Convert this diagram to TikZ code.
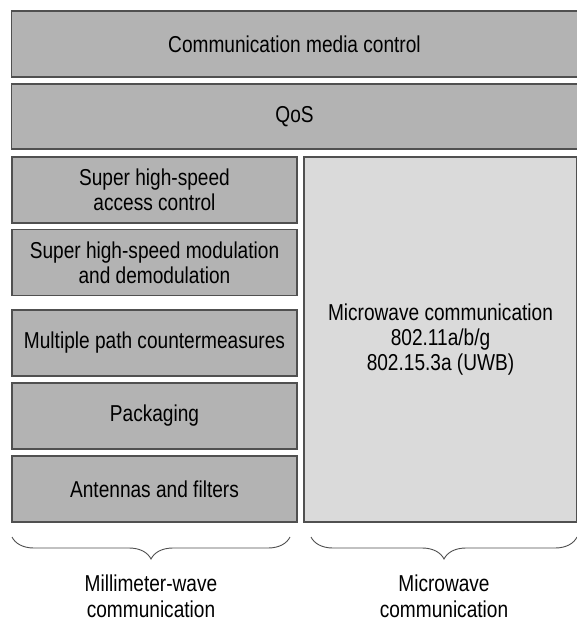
\documentclass[tikz,border=0pt]{standalone}
\usepackage{fontspec}
\setmainfont[FakeStretch=0.83]{Liberation Sans}
\usepackage{tikz}
\usetikzlibrary{decorations.pathreplacing}

\definecolor{boxgray}{RGB}{179,179,179}
\definecolor{lightgray}{RGB}{218,218,218}
\definecolor{edgegray}{RGB}{80,80,80}

\begin{document}
\begin{tikzpicture}[x=1pt, y=-1pt,
    layer/.style={rectangle, draw=edgegray, line width=1.2pt, fill=boxgray,
                  inner sep=0pt, align=center,
                  font=\fontsize{23}{25}\selectfont},
    tech/.style={layer, minimum width=285pt, minimum height=66pt},
    lbl/.style={align=center, font=\fontsize{23}{26}\selectfont}]
    \useasboundingbox (0,0) rectangle (577,626);

    \node[layer, minimum width=566pt, minimum height=66pt] (media) at (294.5,44) {Communication media control};
    \node[layer, minimum width=566pt, minimum height=65pt] (qos) at (294.5,116.5) {QoS};

    \node[tech] (access) at (154.5,190) {Super high-speed\\access control};
    \node[tech] (modem) at (154.5,262.5) {Super high-speed modulation\\and demodulation};
    \node[tech] (multipath) at (154.5,343) {Multiple path countermeasures};
    \node[tech] (pkg) at (154.5,416) {Packaging};
    \node[tech] (ant) at (154.5,489) {Antennas and filters};

    \node[layer, fill=lightgray, minimum width=273pt, minimum height=365pt] (micro) at (440.5,339.5)
        {Microwave communication\\802.11a/b/g\\802.15.3a (UWB)};

    % braces
    \coordinate (mmL) at (12,537);
    \coordinate (mmR) at (290,537);
    \coordinate (mwL) at (311,537);
    \coordinate (mwR) at (577,537);
    \draw[edgegray, line width=0.9pt, decorate, decoration={brace, mirror, amplitude=22pt}] (mmL) -- (mmR);
    \draw[edgegray, line width=0.9pt, decorate, decoration={brace, mirror, amplitude=22pt}] (mwL) -- (mwR);

    \node[lbl] (mmlabel) at (151,596) {Millimeter-wave\\communication};
    \node[lbl] (mwlabel) at (444,596) {Microwave\\communication};
\end{tikzpicture}
\end{document}
